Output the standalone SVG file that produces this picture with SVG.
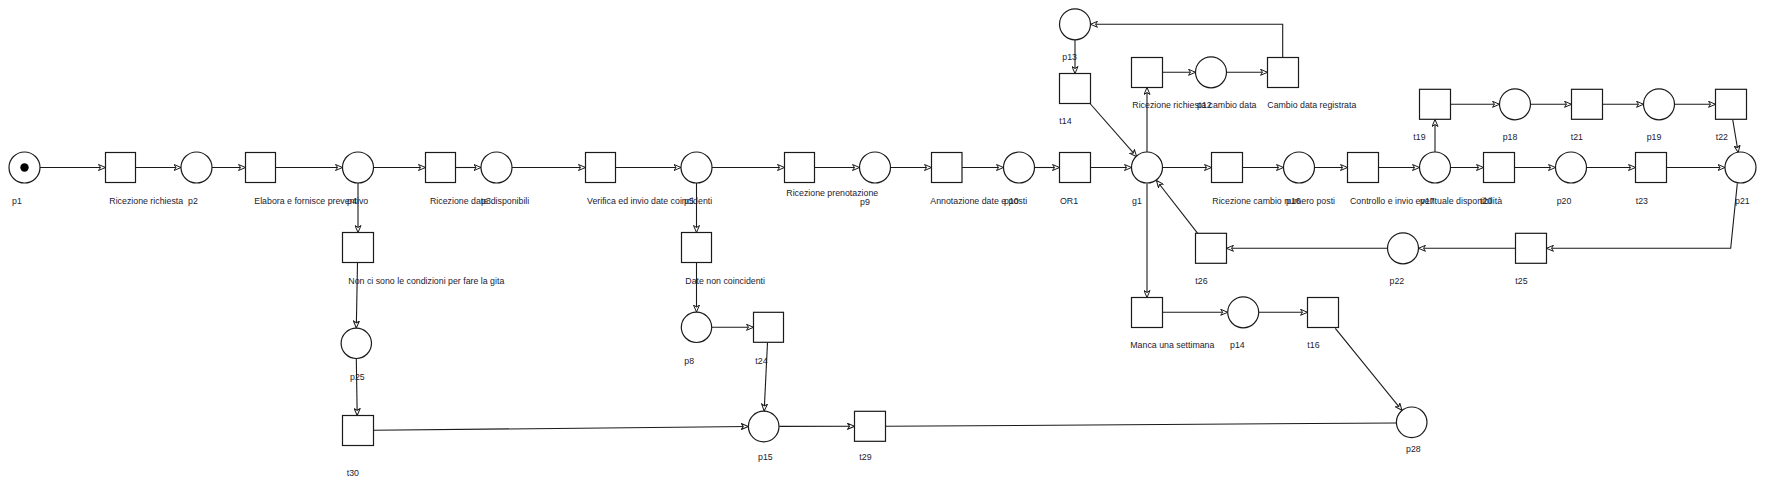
<svg xmlns="http://www.w3.org/2000/svg" width="1765" height="490" viewBox="0 0 1765 490">
<style>
.pl{fill:#fff;stroke:#1a1a1a;stroke-width:1.2}
.tr{fill:#fff;stroke:#1a1a1a;stroke-width:1.2}
.lbl{font-family:"Liberation Sans",Arial,sans-serif;font-size:8.8px;fill:#1c2130}
.arc{fill:none;stroke:#1a1a1a;stroke-width:1.1;marker-end:url(#arr)}
.arcn{fill:none;stroke:#1a1a1a;stroke-width:1.1}
</style>
<defs>
<marker id="arr" viewBox="0 0 8 7" refX="7.5" refY="3.5" markerWidth="8" markerHeight="7" markerUnits="userSpaceOnUse" orient="auto">
<path d="M0.5,0.5 L7.5,3.5 L0.5,6.5 L2.5,3.5 Z" fill="#fff" stroke="#1a1a1a" stroke-width="1"/>
</marker>
</defs>
<rect width="1765" height="490" fill="#fff"/>
<g id="connectors">
<line class="arc" x1="40" y1="167.5" x2="105.5" y2="167.5"/>
<line class="arc" x1="135.5" y1="167.5" x2="181" y2="167.5"/>
<line class="arc" x1="212" y1="167.5" x2="245.5" y2="167.5"/>
<line class="arc" x1="275.5" y1="167.5" x2="342.5" y2="167.5"/>
<line class="arc" x1="373.5" y1="167.5" x2="425.5" y2="167.5"/>
<line class="arc" x1="455.5" y1="167.5" x2="481" y2="167.5"/>
<line class="arc" x1="512" y1="167.5" x2="585.5" y2="167.5"/>
<line class="arc" x1="615.5" y1="167.5" x2="681" y2="167.5"/>
<line class="arc" x1="712" y1="167.5" x2="784.5" y2="167.5"/>
<line class="arc" x1="814.5" y1="167.5" x2="859.5" y2="167.5"/>
<line class="arc" x1="890.5" y1="167.5" x2="931.5" y2="167.5"/>
<line class="arc" x1="962" y1="167.5" x2="1003.5" y2="167.5"/>
<line class="arc" x1="1034.5" y1="167.5" x2="1059.5" y2="167.5"/>
<line class="arc" x1="1090.5" y1="167.5" x2="1131.5" y2="167.5"/>
<line class="arc" x1="1162.5" y1="167.5" x2="1211.5" y2="167.5"/>
<line class="arc" x1="1242.5" y1="167.5" x2="1283.5" y2="167.5"/>
<line class="arc" x1="1314.5" y1="167.5" x2="1347.5" y2="167.5"/>
<line class="arc" x1="1378.5" y1="167.5" x2="1419.5" y2="167.5"/>
<line class="arc" x1="1450.5" y1="167.5" x2="1483.5" y2="167.5"/>
<line class="arc" x1="1514.5" y1="167.5" x2="1555.5" y2="167.5"/>
<line class="arc" x1="1586.5" y1="167.5" x2="1635.5" y2="167.5"/>
<line class="arc" x1="1666.5" y1="167.5" x2="1725" y2="167.5"/>
<line class="arc" x1="358" y1="183" x2="358" y2="232.5"/>
<line class="arc" x1="357.5" y1="262.5" x2="356.3" y2="328"/>
<line class="arc" x1="356.3" y1="358.8" x2="357.2" y2="415.5"/>
<line class="arc" x1="373.5" y1="430.3" x2="748.3" y2="426.5"/>
<line class="arc" x1="696.5" y1="183" x2="696.5" y2="232.5"/>
<line class="arc" x1="696.5" y1="262.5" x2="696.5" y2="312"/>
<line class="arc" x1="712" y1="327.3" x2="753.5" y2="327.3"/>
<line class="arc" x1="767.5" y1="342.5" x2="764.2" y2="411"/>
<line class="arc" x1="779.3" y1="426.4" x2="854.5" y2="426.3"/>
<line class="arcn" x1="885.5" y1="426.3" x2="1396.3" y2="423"/>
<line class="arc" x1="1075" y1="39.7" x2="1075" y2="73.5"/>
<line class="arc" x1="1090" y1="103.5" x2="1136.7" y2="156.7"/>
<line class="arc" x1="1147" y1="152" x2="1147" y2="87.5"/>
<line class="arc" x1="1162.5" y1="72.3" x2="1195.5" y2="72.3"/>
<line class="arc" x1="1226.5" y1="72.3" x2="1267.5" y2="72.3"/>
<polyline class="arc" points="1282.7,57.5 1282.7,24.3 1090.5,24.3"/>
<line class="arc" x1="1435" y1="152" x2="1435" y2="119.5"/>
<line class="arc" x1="1450.5" y1="104.3" x2="1499.5" y2="104.3"/>
<line class="arc" x1="1530.5" y1="104.3" x2="1571.5" y2="104.3"/>
<line class="arc" x1="1602.5" y1="104.3" x2="1643.5" y2="104.3"/>
<line class="arc" x1="1674.5" y1="104.3" x2="1715.5" y2="104.3"/>
<line class="arc" x1="1732.7" y1="119.5" x2="1738.2" y2="152.5"/>
<polyline class="arc" points="1737.3,183.5 1730.7,248.3 1546.5,248.3"/>
<line class="arc" x1="1515.5" y1="248.3" x2="1418.5" y2="248.3"/>
<line class="arc" x1="1387.5" y1="248.3" x2="1226.5" y2="248.3"/>
<line class="arc" x1="1197.7" y1="233.3" x2="1156.5" y2="180.5"/>
<line class="arc" x1="1147" y1="183.5" x2="1147" y2="297.5"/>
<line class="arc" x1="1162.5" y1="312.3" x2="1227.7" y2="312.3"/>
<line class="arc" x1="1258.7" y1="312.3" x2="1307.5" y2="312.3"/>
<line class="arc" x1="1335.3" y1="328.3" x2="1401.9" y2="410.3"/>
</g>
<g id="p1"><circle class="pl" cx="24.5" cy="167.5" r="15.5"/><circle cx="24.5" cy="167.5" r="4.2" fill="#000"/><text class="lbl" x="12" y="204">p1</text></g>
<g id="t1"><rect class="tr" x="105.5" y="152.5" width="30" height="30"/><text class="lbl" x="109.3" y="204">Ricezione richiesta</text></g>
<g id="p2"><circle class="pl" cx="196.5" cy="167.5" r="15.5"/><text class="lbl" x="188" y="204">p2</text></g>
<g id="t2"><rect class="tr" x="245.5" y="152.5" width="30" height="30"/><text class="lbl" x="254.3" y="204">Elabora e fornisce preventivo</text></g>
<g id="p4"><circle class="pl" cx="358" cy="167.5" r="15.5"/><text class="lbl" x="347" y="204">p4</text></g>
<g id="t3"><rect class="tr" x="425.5" y="152.5" width="30" height="30"/><text class="lbl" x="430" y="204">Ricezione date disponibili</text></g>
<g id="p3"><circle class="pl" cx="496.5" cy="167.5" r="15.5"/><text class="lbl" x="481" y="204">p3</text></g>
<g id="t4"><rect class="tr" x="585.5" y="152.5" width="30" height="30"/><text class="lbl" x="587" y="204">Verifica ed invio date coincidenti</text></g>
<g id="p5"><circle class="pl" cx="696.5" cy="167.5" r="15.5"/><text class="lbl" x="684" y="204">p5</text></g>
<g id="t5"><rect class="tr" x="784.5" y="152.5" width="30" height="30"/><text class="lbl" x="786.3" y="196">Ricezione prenotazione</text></g>
<g id="p9"><circle class="pl" cx="875" cy="167.5" r="15.5"/><text class="lbl" x="865" y="204.5" text-anchor="middle">p9</text></g>
<g id="t6"><rect class="tr" x="931.5" y="152.5" width="30.5" height="30"/><text class="lbl" x="930.3" y="204">Annotazione date e posti</text></g>
<g id="p10"><circle class="pl" cx="1019" cy="167.5" r="15.5"/><text class="lbl" x="1004" y="204">p10</text></g>
<g id="OR1"><rect class="tr" x="1059.5" y="152.5" width="31" height="30"/><text class="lbl" x="1060" y="204">OR1</text></g>
<g id="g1"><circle class="pl" cx="1147" cy="167.5" r="15.5"/><text class="lbl" x="1132" y="204">g1</text></g>
<g id="t7"><rect class="tr" x="1211.5" y="152.5" width="31" height="30"/><text class="lbl" x="1212.3" y="204">Ricezione cambio numero posti</text></g>
<g id="p16"><circle class="pl" cx="1299" cy="167.5" r="15.5"/><text class="lbl" x="1286" y="204">p16</text></g>
<g id="t8"><rect class="tr" x="1347.5" y="152.5" width="31" height="30"/><text class="lbl" x="1350" y="204">Controllo e invio eventuale disponibilità</text></g>
<g id="p17"><circle class="pl" cx="1435" cy="167.5" r="15.5"/><text class="lbl" x="1420" y="204">p17</text></g>
<g id="t20"><rect class="tr" x="1483.5" y="152.5" width="31" height="30"/><text class="lbl" x="1480" y="204">t20</text></g>
<g id="p20"><circle class="pl" cx="1571" cy="167.5" r="15.5"/><text class="lbl" x="1556.7" y="204">p20</text></g>
<g id="t23"><rect class="tr" x="1635.5" y="152.5" width="31" height="30"/><text class="lbl" x="1635.7" y="204">t23</text></g>
<g id="p21"><circle class="pl" cx="1740.5" cy="167.5" r="15.5"/><text class="lbl" x="1735" y="204">p21</text></g>
<g id="t19"><rect class="tr" x="1419.5" y="89.3" width="31" height="30"/><text class="lbl" x="1413.3" y="140.3">t19</text></g>
<g id="p18"><circle class="pl" cx="1515" cy="104.3" r="15.5"/><text class="lbl" x="1502.7" y="140.3">p18</text></g>
<g id="t21"><rect class="tr" x="1571.5" y="89.3" width="31" height="30"/><text class="lbl" x="1570.7" y="140.3">t21</text></g>
<g id="p19"><circle class="pl" cx="1659" cy="104.3" r="15.5"/><text class="lbl" x="1646.7" y="140.3">p19</text></g>
<g id="t22"><rect class="tr" x="1715.5" y="89.3" width="31" height="30"/><text class="lbl" x="1715.7" y="140.3">t22</text></g>
<g id="p13"><circle class="pl" cx="1075" cy="24.3" r="15.5"/><text class="lbl" x="1062.3" y="60.3">p13</text></g>
<g id="t14"><rect class="tr" x="1059.5" y="73.5" width="31" height="30"/><text class="lbl" x="1059.3" y="124.3">t14</text></g>
<g id="t9"><rect class="tr" x="1131.5" y="57.5" width="31" height="30"/><text class="lbl" x="1132.3" y="108.3">Ricezione richiesta cambio data</text></g>
<g id="p12"><circle class="pl" cx="1211" cy="72.3" r="15.5"/><text class="lbl" x="1197" y="108.3">p12</text></g>
<g id="t10"><rect class="tr" x="1267.5" y="57.5" width="31" height="30"/><text class="lbl" x="1267.3" y="108.3">Cambio data registrata</text></g>
<g id="t25"><rect class="tr" x="1515.5" y="233.3" width="31" height="30"/><text class="lbl" x="1515.3" y="284">t25</text></g>
<g id="p22"><circle class="pl" cx="1403" cy="248.3" r="15.5"/><text class="lbl" x="1389.5" y="284">p22</text></g>
<g id="t26"><rect class="tr" x="1195.5" y="233.3" width="31" height="30"/><text class="lbl" x="1195.3" y="284">t26</text></g>
<g id="t11"><rect class="tr" x="1131.5" y="297.5" width="31" height="30"/><text class="lbl" x="1130.3" y="348">Manca una settimana</text></g>
<g id="p14"><circle class="pl" cx="1243.2" cy="312.3" r="15.5"/><text class="lbl" x="1230" y="348">p14</text></g>
<g id="t16"><rect class="tr" x="1307.5" y="297.5" width="31" height="30"/><text class="lbl" x="1307.3" y="348">t16</text></g>
<g id="p28"><circle class="pl" cx="1411.7" cy="422.3" r="15.3"/><text class="lbl" x="1406" y="452.3">p28</text></g>
<g id="t12"><rect class="tr" x="342.5" y="232.5" width="31" height="30"/><text class="lbl" x="348.3" y="284">Non ci sono le condizioni per fare la gita</text></g>
<g id="p25"><circle class="pl" cx="356.3" cy="343.3" r="15.2"/><text class="lbl" x="350" y="380">p25</text></g>
<g id="t30"><rect class="tr" x="342.5" y="415.5" width="31" height="30"/><text class="lbl" x="346.7" y="475.7">t30</text></g>
<g id="t13"><rect class="tr" x="681.5" y="232.5" width="30" height="30"/><text class="lbl" x="685.3" y="284">Date non coincidenti</text></g>
<g id="p8"><circle class="pl" cx="696.5" cy="327.3" r="15.2"/><text class="lbl" x="684.3" y="364">p8</text></g>
<g id="t24"><rect class="tr" x="753.5" y="312.3" width="30" height="30"/><text class="lbl" x="755.3" y="364">t24</text></g>
<g id="p15"><circle class="pl" cx="763.7" cy="426.5" r="15.3"/><text class="lbl" x="758" y="460">p15</text></g>
<g id="t29"><rect class="tr" x="854.5" y="411.3" width="31" height="30"/><text class="lbl" x="859.3" y="460">t29</text></g>
</svg>
